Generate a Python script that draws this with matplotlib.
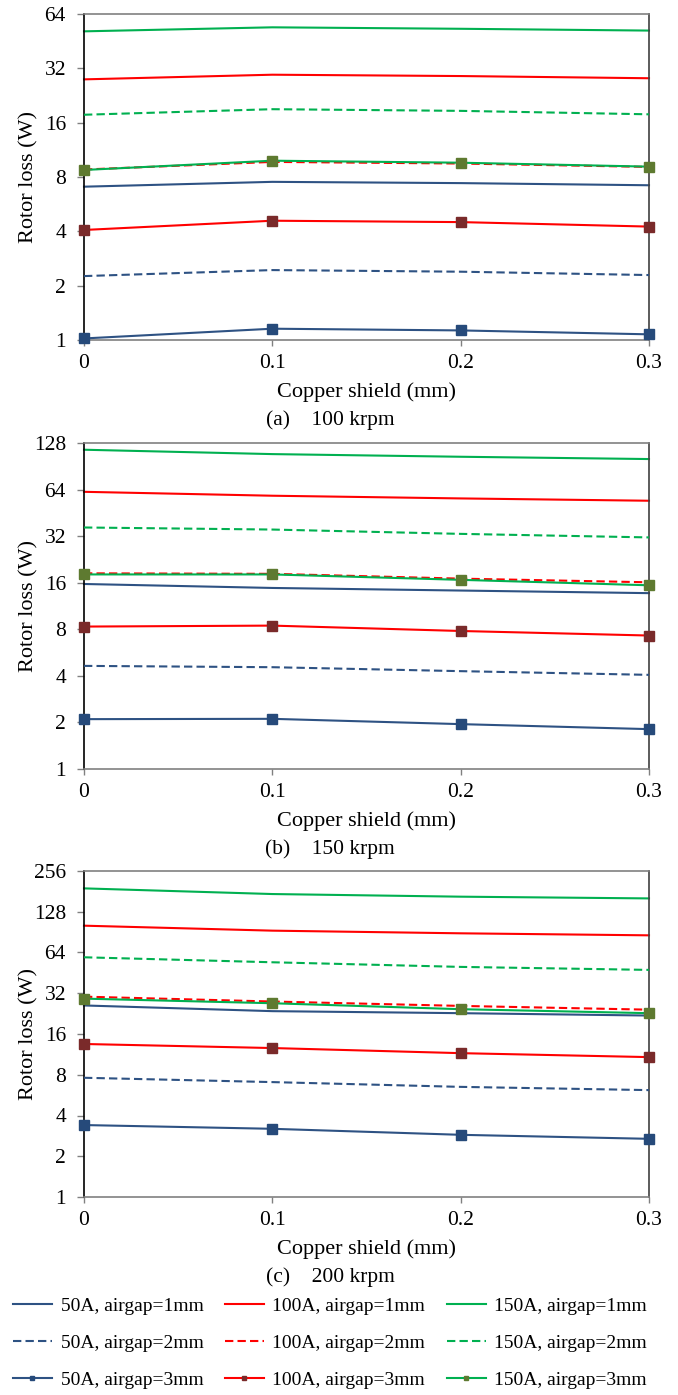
import matplotlib
matplotlib.use('Agg')
import matplotlib.pyplot as plt

plt.rcParams['font.family'] = ['Liberation Serif', 'DejaVu Serif']

# copper shield thickness (mm)
shield_mm = [0, 0.1, 0.2, 0.3]

series_labels = [
    '50A, airgap=1mm', '50A, airgap=2mm', '50A, airgap=3mm',
    '100A, airgap=1mm', '100A, airgap=2mm', '100A, airgap=3mm',
    '150A, airgap=1mm', '150A, airgap=2mm', '150A, airgap=3mm',
]

# rotor loss (W), one row per series in the order of series_labels
loss_100krpm = [
    [7.07, 7.52, 7.40, 7.20],
    [2.26, 2.44, 2.39, 2.29],
    [1.02, 1.155, 1.13, 1.075],
    [27.8, 29.5, 29.0, 28.2],
    [8.8, 9.7, 9.5, 9.1],
    [4.07, 4.58, 4.50, 4.25],
    [51.3, 54.0, 53.0, 51.8],
    [17.7, 19.0, 18.6, 17.8],
    [8.75, 9.85, 9.6, 9.13],
]
loss_150krpm = [
    [15.7, 14.8, 14.24, 13.7],
    [4.64, 4.55, 4.29, 4.06],
    [2.10, 2.11, 1.95, 1.81],
    [61.9, 58.4, 56.1, 54.2],
    [18.4, 18.26, 17.0, 16.1],
    [8.33, 8.45, 7.80, 7.29],
    [115.8, 108.5, 104.3, 100.8],
    [36.4, 35.3, 33.1, 31.4],
    [18.1, 18.1, 16.7, 15.4],
]
loss_200krpm = [
    [26.0, 23.6, 22.8, 21.9],
    [7.6, 7.06, 6.51, 6.16],
    [3.40, 3.19, 2.88, 2.69],
    [101.0, 92.8, 88.7, 85.7],
    [30.2, 27.8, 25.8, 24.2],
    [13.5, 12.6, 11.55, 10.8],
    [190.5, 173.0, 165.4, 160.6],
    [59.0, 54.2, 50.1, 47.6],
    [29.2, 27.0, 24.4, 22.8],
]

panel_captions = ['(a)    100 krpm', '(b)    150 krpm', '(c)    200 krpm']
y_ticks_100 = [1, 2, 4, 8, 16, 32, 64]
y_ticks_150 = [1, 2, 4, 8, 16, 32, 64, 128]
y_ticks_200 = [1, 2, 4, 8, 16, 32, 64, 128, 256]
x_ticks = [0, 0.1, 0.2, 0.3]
x_tick_labels = ['0', '0.1', '0.2', '0.3']

line_colors = ['#2E5283', '#FF0000', '#00B050']
marker_colors = ['#264A7A', '#7A2A2A', '#5E7A30']

W, H = 678, 1395
fig = plt.figure(figsize=(W / 100, H / 100), dpi=100)

# pixel boxes of the three plot areas: (top, bottom)
boxes = [(14, 340), (443, 769), (871, 1197)]
left_px, right_px = 84, 649

panels = [loss_100krpm, loss_150krpm, loss_200krpm]
yticks_all = [y_ticks_100, y_ticks_150, y_ticks_200]

handles = []
for p, (data, yt, (top, bot)) in enumerate(zip(panels, yticks_all, boxes)):
    ax = fig.add_axes([left_px / W, 1 - bot / H, (right_px - left_px) / W, (bot - top) / H])
    for i, vals in enumerate(data):
        grp = i // 3
        gap = i % 3
        kw = dict(color=line_colors[grp], lw=1.5, clip_on=False, zorder=2 + gap)
        if gap == 1:
            kw['linestyle'] = (0, (4, 2))
        if gap == 2:
            kw.update(marker='s', markersize=6.5, markerfacecolor=marker_colors[grp],
                      markeredgecolor=marker_colors[grp])
        ln, = ax.plot(shield_mm, vals, **kw)
        if p == 0:
            handles.append(ln)

    ax.set_yscale('log', base=2)
    ax.set_ylim(yt[0], yt[-1])
    ax.set_yticks(yt)
    ax.set_yticklabels([str(v) for v in yt])
    ax.yaxis.set_minor_locator(matplotlib.ticker.NullLocator())
    ax.set_xlim(0, 0.3)
    ax.set_xticks(x_ticks)
    ax.set_xticklabels(x_tick_labels)

    ax.tick_params(axis='y', length=5, width=1, color='#808080', pad=8, labelsize=15.5)
    ax.tick_params(axis='x', length=4, width=1, color='#808080', pad=6, labelsize=15.5)
    ax.spines['left'].set_color('#000000')
    ax.spines['right'].set_color('#404040')
    ax.spines['top'].set_color('#808080')
    ax.spines['bottom'].set_color('#808080')
    for s in ax.spines.values():
        s.set_linewidth(1.2)

    ax.set_ylabel('Rotor loss (W)', fontsize=16)
    ax.yaxis.set_label_coords((38 - left_px) / (right_px - left_px), 0.5)
    ax.set_xlabel('Copper shield (mm)', fontsize=16)
    ax.xaxis.label.set_va('center')
    ax.xaxis.set_label_coords(0.5, -52 / (bot - top))

    fig.text(330 / W, 1 - (bot + 80) / H, panel_captions[p], ha='center', va='center', fontsize=15.5)

fig.legend(handles, series_labels, ncol=3, loc='center', bbox_to_anchor=(330 / W, 1 - 1343 / H),
           frameon=False, fontsize=14, handlelength=2.0, handletextpad=0.45,
           columnspacing=1.1, labelspacing=1.0, markerscale=0.5)

fig.savefig('out.png', dpi=100)
